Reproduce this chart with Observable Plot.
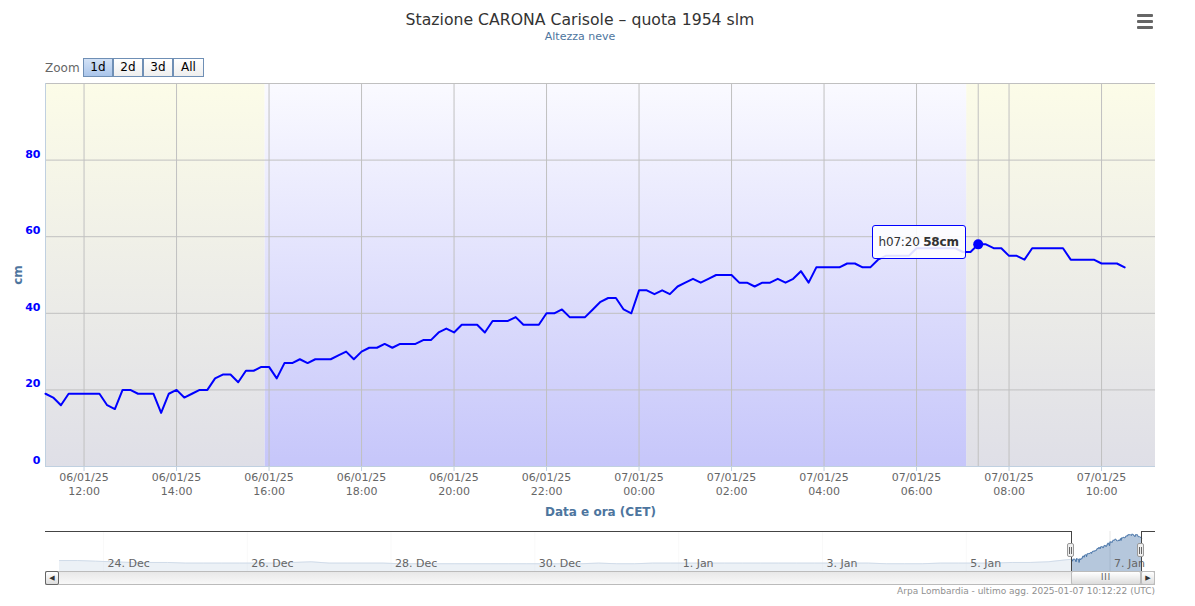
<!DOCTYPE html>
<html><head><meta charset="utf-8">
<script src="https://cdn.jsdelivr.net/npm/d3@7"></script>
<script src="https://cdn.jsdelivr.net/npm/@observablehq/plot@0.6"></script>
<style>
body{margin:0;background:#fff;font-family:"DejaVu Sans",Verdana,sans-serif;}
#root{position:relative;width:1195px;height:606px;overflow:hidden;background:#fff;}
.abs{position:absolute;}
#title{left:0;width:1160px;top:10px;text-align:center;font-size:15.7px;color:#333;white-space:nowrap;}
#subtitle{left:0;width:1160px;top:30px;text-align:center;font-size:11px;color:#4d759e;}
#menu{left:1137px;top:14px;width:16px;}
#menu div{height:3px;background:#666;margin-bottom:3px;border-radius:1px;}
#zoomlbl{left:45px;top:61px;font-size:12px;color:#666;}
.btn{top:58px;height:17px;border:1px solid #6f8fb5;font-size:12px;color:#000;text-align:center;line-height:17px;background:linear-gradient(#ffffff,#eeeeee);box-sizing:content-box;}
.btn.sel{background:linear-gradient(#d3e2f6,#aac5ea);}
#chart{left:0;top:73px;}
#nav{left:0;top:525px;}
#tip{border:1px solid #0000ff;border-radius:3px;background:rgba(255,255,255,0.88);font-size:12px;color:#333;padding:0 6px;height:32px;line-height:32px;white-space:nowrap;letter-spacing:-0.2px;}
#credits{right:40px;top:586px;font-size:9px;color:#909090;white-space:nowrap;}
g[aria-label="y-axis tick label"]{font-weight:bold;}
g[aria-label="y-axis label"], g[aria-label="x-axis label"]{font-weight:bold;fill:#4d759e;font-size:12px;}
</style></head>
<body>
<svg width="0" height="0" style="position:absolute">
<defs>
<linearGradient id="dayGrad" x1="0" y1="0" x2="0" y2="1"><stop offset="0" stop-color="#fcfce8"/><stop offset="1" stop-color="#dfdfe7"/></linearGradient>
<linearGradient id="nightGrad" x1="0" y1="0" x2="0" y2="1"><stop offset="0" stop-color="#fafaff"/><stop offset="1" stop-color="#c6c6fa"/></linearGradient>
</defs></svg>
<div id="root"></div>
<script>
// ---- data ----
const chartTitle = "Stazione CARONA Carisole – quota 1954 slm";
const chartSubtitle = "Altezza neve";
const yAxisTitle = "cm";
const xAxisTitle = "Data e ora (CET)";
const creditsText = "Arpa Lombardia - ultimo agg. 2025-01-07 10:12:22 (UTC)";
const zoomButtons = ["1d", "2d", "3d", "All"];

const startTime = "2025-01-06T11:10:00Z";
const stepMinutes = 10;
const snowCm = [
  19,18,16,19,19,
  19,19,19,16,15,20,
  20,19,19,19,14,19,
  20,18,19,20,20,23,
  24,24,22,25,25,26,
  26,23,27,27,28,27,
  28,28,28,29,30,28,
  30,31,31,32,31,32,
  32,32,33,33,35,36,
  35,37,37,37,35,38,
  38,38,39,37,37,37,
  40,40,41,39,39,39,
  41,43,44,44,41,40,
  46,46,45,46,45,47,
  48,49,48,49,50,50,
  50,48,48,47,48,48,
  49,48,49,51,48,52,
  52,52,52,53,53,52,
  52,54,55,55,55,55,
  57,57,57,57,57,57,
  56,56,58,58,57,57,
  55,55,54,57,57,57,
  57,57,54,54,54,54,
  53,53,53,52
];
const xDomain = ["2025-01-06T11:10:00Z", "2025-01-07T11:10:00Z"];
const xTickTimes = ["2025-01-06T12:00:00Z","2025-01-06T14:00:00Z","2025-01-06T16:00:00Z","2025-01-06T18:00:00Z","2025-01-06T20:00:00Z","2025-01-06T22:00:00Z","2025-01-07T00:00:00Z","2025-01-07T02:00:00Z","2025-01-07T04:00:00Z","2025-01-07T06:00:00Z","2025-01-07T08:00:00Z","2025-01-07T10:00:00Z"];
const xTickLabels = ["06/01/25\n12:00","06/01/25\n14:00","06/01/25\n16:00","06/01/25\n18:00","06/01/25\n20:00","06/01/25\n22:00","07/01/25\n00:00","07/01/25\n02:00","07/01/25\n04:00","07/01/25\n06:00","07/01/25\n08:00","07/01/25\n10:00"];
const yDomain = [0, 100];
const yTicks = [0, 20, 40, 60, 80];
const yGrid = [0, 20, 40, 60, 80, 100];
const bandStart = ["2025-01-06T11:10:00Z", "2025-01-06T15:55:00Z", "2025-01-07T07:05:00Z"];
const bandEnd   = ["2025-01-06T15:55:00Z", "2025-01-07T07:05:00Z", "2025-01-07T11:10:00Z"];
const bandKind  = ["day", "night", "day"];
const tooltipTime = "2025-01-07T07:20:00Z";
const tooltipValue = 58;
const tooltipLabel = "h07:20";

// navigator (overview) series: 6-hourly readings before the detailed day
const navStart = "2024-12-23T09:20:00Z";
const navStepHours = 6;
const navCm = [
  17,17,16,15, 14,14,14,13, 13,13,13,13, 13,14,15,13,
  13,13,13,12, 12,12,12,12, 12,12,12,12, 12,12,13,12,
  12,13,13,13, 13,13,13,13, 13,13,13,13, 13,13,12,12,
  12,13,13,13, 13,14,14,15
];
const navYDomain = [0, 62];
const navTickDates = ["2024-12-24T00:00:00Z","2024-12-26T00:00:00Z","2024-12-28T00:00:00Z","2024-12-30T00:00:00Z","2025-01-01T00:00:00Z","2025-01-03T00:00:00Z","2025-01-05T00:00:00Z","2025-01-07T00:00:00Z"];
const navTickLabels = ["24. Dec","26. Dec","28. Dec","30. Dec","1. Jan","3. Jan","5. Jan","7. Jan"];

// ---- build ----
const root = document.getElementById("root");
const t0 = new Date(startTime).getTime();
const series = snowCm.map((v, i) => ({t: new Date(t0 + i * stepMinutes * 60000), v}));
const bands = bandKind.map((k, i) => ({x1: new Date(bandStart[i]), x2: new Date(bandEnd[i]), k}));
const xTicks = xTickTimes.map(d => new Date(d));
const xLab = d => xTickLabels[xTickTimes.findIndex(s => +new Date(s) === +d)];
const tipPoint = [{t: new Date(tooltipTime), v: tooltipValue}];
const font = '"DejaVu Sans", Verdana, sans-serif';

function add(html) { root.insertAdjacentHTML("beforeend", html); }
add(`<div class="abs" id="title">${chartTitle}</div>`);
add(`<div class="abs" id="subtitle">${chartSubtitle}</div>`);
add(`<div class="abs" id="menu"><div></div><div></div><div></div></div>`);
add(`<div class="abs" id="zoomlbl">Zoom</div>`);
const btnLeft = [83, 113, 143, 173], btnW = [28, 28, 28, 29];
zoomButtons.forEach((b, i) => add(`<div class="abs btn${i === 0 ? " sel" : ""}" style="left:${btnLeft[i]}px;width:${btnW[i]}px">${b}</div>`));

const main = Plot.plot({
  width: 1195, height: 447,
  marginLeft: 45, marginRight: 40, marginTop: 10, marginBottom: 54,
  style: {fontFamily: font, fontSize: "11px", background: "transparent", overflow: "visible"},
  x: {type: "utc", domain: xDomain.map(d => new Date(d))},
  y: {domain: yDomain},
  marks: [
    Plot.rect(bands.filter(d => d.k === "day"), {x1: "x1", x2: "x2", y1: yDomain[0], y2: yDomain[1], fill: "url(#dayGrad)"}),
    Plot.rect(bands.filter(d => d.k === "night"), {x1: "x1", x2: "x2", y1: yDomain[0], y2: yDomain[1], fill: "url(#nightGrad)"}),
    Plot.gridY(yGrid, {stroke: "#c0c0c0", strokeOpacity: 1}),
    Plot.gridX(xTicks, {stroke: "#c0c0c0", strokeOpacity: 1}),
    Plot.ruleX(tipPoint, {x: "t", stroke: "#c0c0c0", strokeOpacity: 1}),
    Plot.ruleY([yDomain[0]], {stroke: "#c0d0e0"}),
    Plot.ruleX([new Date(xDomain[0])], {stroke: "#c0d0e0"}),
    Plot.line(series, {x: "t", y: "v", stroke: "#0000ff", strokeWidth: 2, strokeLinejoin: "round", style: "filter:drop-shadow(1px 1px 1px rgba(0,0,0,0.18))"}),
    Plot.dot(tipPoint, {x: "t", y: "v", r: 5, fill: "#0000ff", stroke: "none"}),
    Plot.axisY(yTicks, {tickSize: 0, tickPadding: 5, dy: -6, color: "#0000ff", label: yAxisTitle, labelAnchor: "center", labelOffset: 32, labelArrow: false}),
    Plot.axisX(xTicks, {tickSize: 5, stroke: "#c0d0e0", tickFormat: () => "", label: null}),
    Plot.axisX(xTicks, {tickSize: 0, tickPadding: 5, fill: "#666", lineHeight: 1.27, tickFormat: xLab, label: xAxisTitle, labelAnchor: "center", labelOffset: 49, labelArrow: false})
  ]
});
main.id = "chart"; main.classList.add("abs");
root.appendChild(main);

// tooltip positioned through the scales
const sx = main.scale("x"), sy = main.scale("y");
const px = sx.apply(tipPoint[0].t), py = sy.apply(tipPoint[0].v) + 73;
add(`<div class="abs" id="tip" style="right:${1195 - (px - 12)}px;top:${py - 19}px">${tooltipLabel} <b>${tooltipValue}cm</b></div>`);

// navigator
const n0 = new Date(navStart).getTime();
const navSeries = navCm.map((v, i) => ({t: new Date(n0 + i * navStepHours * 3600000), v})).concat(series);
const navDomain = [navSeries[0].t, navSeries[navSeries.length - 1].t];
const navTicks = navTickDates.map(d => new Date(d));
const navLab = d => navTickLabels[navTickDates.findIndex(s => +new Date(s) === +d)];
const selStart = new Date(xDomain[0]);
const nav = Plot.plot({
  width: 1195, height: 56,
  marginLeft: 59, marginRight: 54, marginTop: 6, marginBottom: 10,
  style: {fontFamily: font, fontSize: "11px", background: "transparent", overflow: "visible"},
  x: {type: "utc", domain: navDomain},
  y: {domain: navYDomain, axis: null},
  marks: [
    Plot.gridX(navTicks, {stroke: "#e6e6e6", strokeOpacity: 1}),
    Plot.areaY(navSeries, {x: "t", y: "v", fill: "#4572A7", fillOpacity: 0.4}),
    Plot.line(navSeries, {x: "t", y: "v", stroke: "#4572A7", strokeWidth: 1}),
    Plot.rect([{a: navDomain[0], b: selStart}], {x1: "a", x2: "b", y1: navYDomain[0], y2: navYDomain[1], fill: "#fff", fillOpacity: 0.75}),
    Plot.axisX(navTicks, {tickSize: 0, tickPadding: 0, dy: -12, dx: 4, textAnchor: "start", fill: "#666", tickFormat: navLab, label: null})
  ]
});
nav.id = "nav"; nav.classList.add("abs");
root.appendChild(nav);

const nx = nav.scale("x");
const hL = nx.apply(selStart), hR = nx.apply(navDomain[1]);
const navTop = 531, navBot = 571;
// outline
add(`<div class="abs" style="left:45px;top:${navTop}px;width:${hL - 45}px;height:1px;background:#444"></div>`);
add(`<div class="abs" style="left:${hR}px;top:${navTop}px;width:${1155 - hR}px;height:1px;background:#444"></div>`);
add(`<div class="abs" style="left:${hL}px;top:${navTop}px;width:1px;height:${navBot - navTop}px;background:#444"></div>`);
add(`<div class="abs" style="left:${hR}px;top:${navTop}px;width:1px;height:${navBot - navTop}px;background:#444"></div>`);
// handles
[hL, hR].forEach(h => add(`<div class="abs" style="left:${h - 4}px;top:543px;width:7px;height:14px;border:1px solid #999;border-radius:2px;background:#eee;box-sizing:border-box;display:flex;justify-content:center;gap:1px;padding-top:3px"><div style="width:1px;height:7px;background:#666"></div><div style="width:1px;height:7px;background:#666"></div></div>`));
// scrollbar
add(`<div class="abs" style="left:45px;top:571px;width:1110px;height:14px;border:1px solid #bbb;box-sizing:border-box;background:linear-gradient(#e8e8e8,#f8f8f8)"></div>`);
add(`<div class="abs" style="left:45px;top:571px;width:14px;height:14px;border:1px solid #666;border-radius:2px;box-sizing:border-box;background:linear-gradient(#fff,#ddd);font-size:7px;line-height:12px;text-align:center;color:#333">&#9664;</div>`);
add(`<div class="abs" style="left:1141px;top:571px;width:14px;height:14px;border:1px solid #bbb;border-radius:2px;box-sizing:border-box;background:linear-gradient(#fff,#ddd);font-size:7px;line-height:12px;text-align:center;color:#333">&#9654;</div>`);
add(`<div class="abs" style="left:${hL}px;top:571px;width:${hR - hL}px;height:14px;border:1px solid #bbb;border-radius:2px;box-sizing:border-box;background:linear-gradient(#fff,#dcdcdc);font-size:8px;line-height:12px;text-align:center;color:#555;letter-spacing:1px">III</div>`);
add(`<div class="abs" id="credits">${creditsText}</div>`);
</script>
</body></html>
